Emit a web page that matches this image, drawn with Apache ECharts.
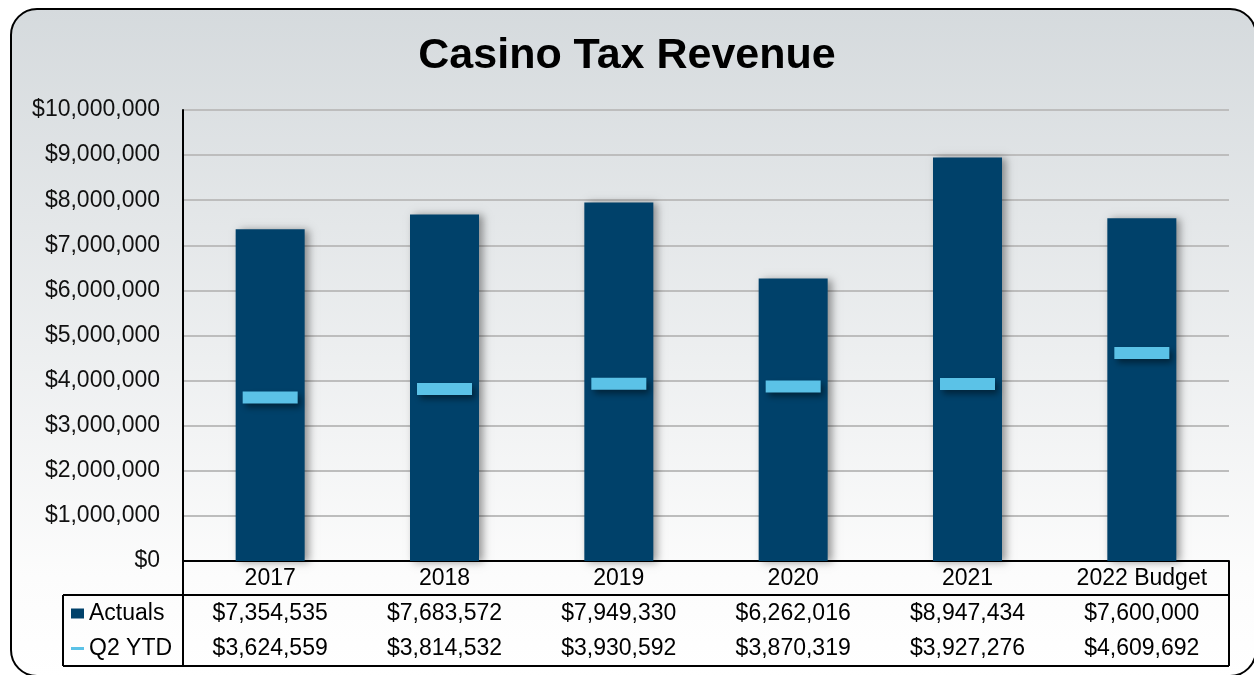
<!DOCTYPE html>
<html>
<head>
<meta charset="utf-8">
<script src="https://cdn.jsdelivr.net/npm/echarts@6/dist/echarts.min.js"></script>
<style>html,body{margin:0;padding:0;background:#fff}#c{width:1254px;height:675px}</style>
</head>
<body>
<div id="c"></div>
<script>
const categories = ['2017', '2018', '2019', '2020', '2021', '2022 Budget'];
const actuals = [7354535, 7683572, 7949330, 6262016, 8947434, 7600000];
const q2ytd = [3624559, 3814532, 3930592, 3870319, 3927276, 4609692];
const seriesNames = ['Actuals', 'Q2 YTD'];
const titleText = 'Casino Tax Revenue';

const FONT = '"Liberation Sans", Arial, sans-serif';
const FS = 23;
const money = v => '$' + Math.round(v).toLocaleString('en-US');

const G = { left: 183, right: 25, top: 110, bottom: 114 };
const W = 1254, H = 675;
const plotR = W - G.right, plotB = H - G.bottom;
const row1 = plotB + 34, tableB = plotB + 105, tableL = 63;

const chart = echarts.init(document.getElementById('c'), null, { renderer: 'canvas' });
const lineStyle = { stroke: '#000', lineWidth: 2 };
chart.setOption({
  backgroundColor: '#fff',
  animation: false,
  title: {
    text: titleText, left: 'center', top: 30,
    textStyle: { fontFamily: FONT, fontSize: 43, fontWeight: 'bold', color: '#000' }
  },
  legend: {
    orient: 'vertical', left: 66, top: 597, itemGap: 12,
    itemWidth: 13, itemHeight: 10,
    textStyle: { fontFamily: FONT, fontSize: FS, color: '#000', lineHeight: 23 },
    data: [
      { name: seriesNames[0], icon: 'rect' },
      { name: seriesNames[1], icon: 'path://M0,0H13V3H0Z' }
    ]
  },
  grid: { left: G.left, right: G.right, top: G.top, bottom: G.bottom, containLabel: false },
  xAxis: {
    type: 'category', data: categories,
    axisLine: { show: true, lineStyle: { color: '#000', width: 2 } },
    axisTick: { show: false },
    axisLabel: {
      interval: 0, margin: 0,
      formatter: (v, i) => '{c|' + v + '}\n{v|' + money(actuals[i]) + '}\n{v|' + money(q2ytd[i]) + '}',
      rich: {
        c: { fontFamily: FONT, fontSize: FS, color: '#000', lineHeight: 35 },
        v: { fontFamily: FONT, fontSize: FS, color: '#000', lineHeight: 35 }
      }
    }
  },
  yAxis: {
    type: 'value', min: 0, max: 10000000, interval: 1000000,
    axisLine: { show: true, lineStyle: { color: '#000', width: 2 } },
    axisTick: { show: false },
    splitLine: { lineStyle: { color: '#bdbdbd', width: 2 } },
    axisLabel: { margin: 23, fontFamily: FONT, fontSize: FS, color: '#111', formatter: v => money(v) }
  },
  series: [
    {
      name: seriesNames[0], type: 'bar', data: actuals, barWidth: 69,
      itemStyle: { color: '#00416A', shadowColor: 'rgba(0,0,0,0.4)', shadowBlur: 8, shadowOffsetX: 4, shadowOffsetY: 1 },
      z: 2
    },
    {
      name: seriesNames[1], type: 'scatter', data: q2ytd,
      symbol: 'rect', symbolSize: [55, 12],
      itemStyle: { color: '#5BC2E7', opacity: 1, shadowColor: 'rgba(0,0,0,0.45)', shadowBlur: 6, shadowOffsetX: 3, shadowOffsetY: 4 },
      z: 3
    }
  ],
  graphic: [
    {
      type: 'rect', z: -100, silent: true,
      shape: { x: 11, y: 9, width: 1245, height: 667, r: 26 },
      style: {
        fill: new echarts.graphic.LinearGradient(0, 0, 0, 1, [
          { offset: 0, color: '#d5dadd' },
          { offset: 0.85, color: '#fcfcfc' },
          { offset: 1, color: '#ffffff' }
        ]),
        stroke: '#000', lineWidth: 2
      }
    },
    { type: 'line', z: 100, shape: { x1: G.left, y1: plotB, x2: G.left, y2: tableB }, style: lineStyle },
    { type: 'line', z: 100, shape: { x1: plotR, y1: plotB, x2: plotR, y2: tableB }, style: lineStyle },
    { type: 'line', z: 100, shape: { x1: tableL, y1: row1, x2: plotR, y2: row1 }, style: lineStyle },
    { type: 'line', z: 100, shape: { x1: tableL, y1: row1, x2: tableL, y2: tableB }, style: lineStyle },
    { type: 'line', z: 100, shape: { x1: tableL, y1: tableB, x2: plotR, y2: tableB }, style: lineStyle }
  ]
});
</script>
</body>
</html>
